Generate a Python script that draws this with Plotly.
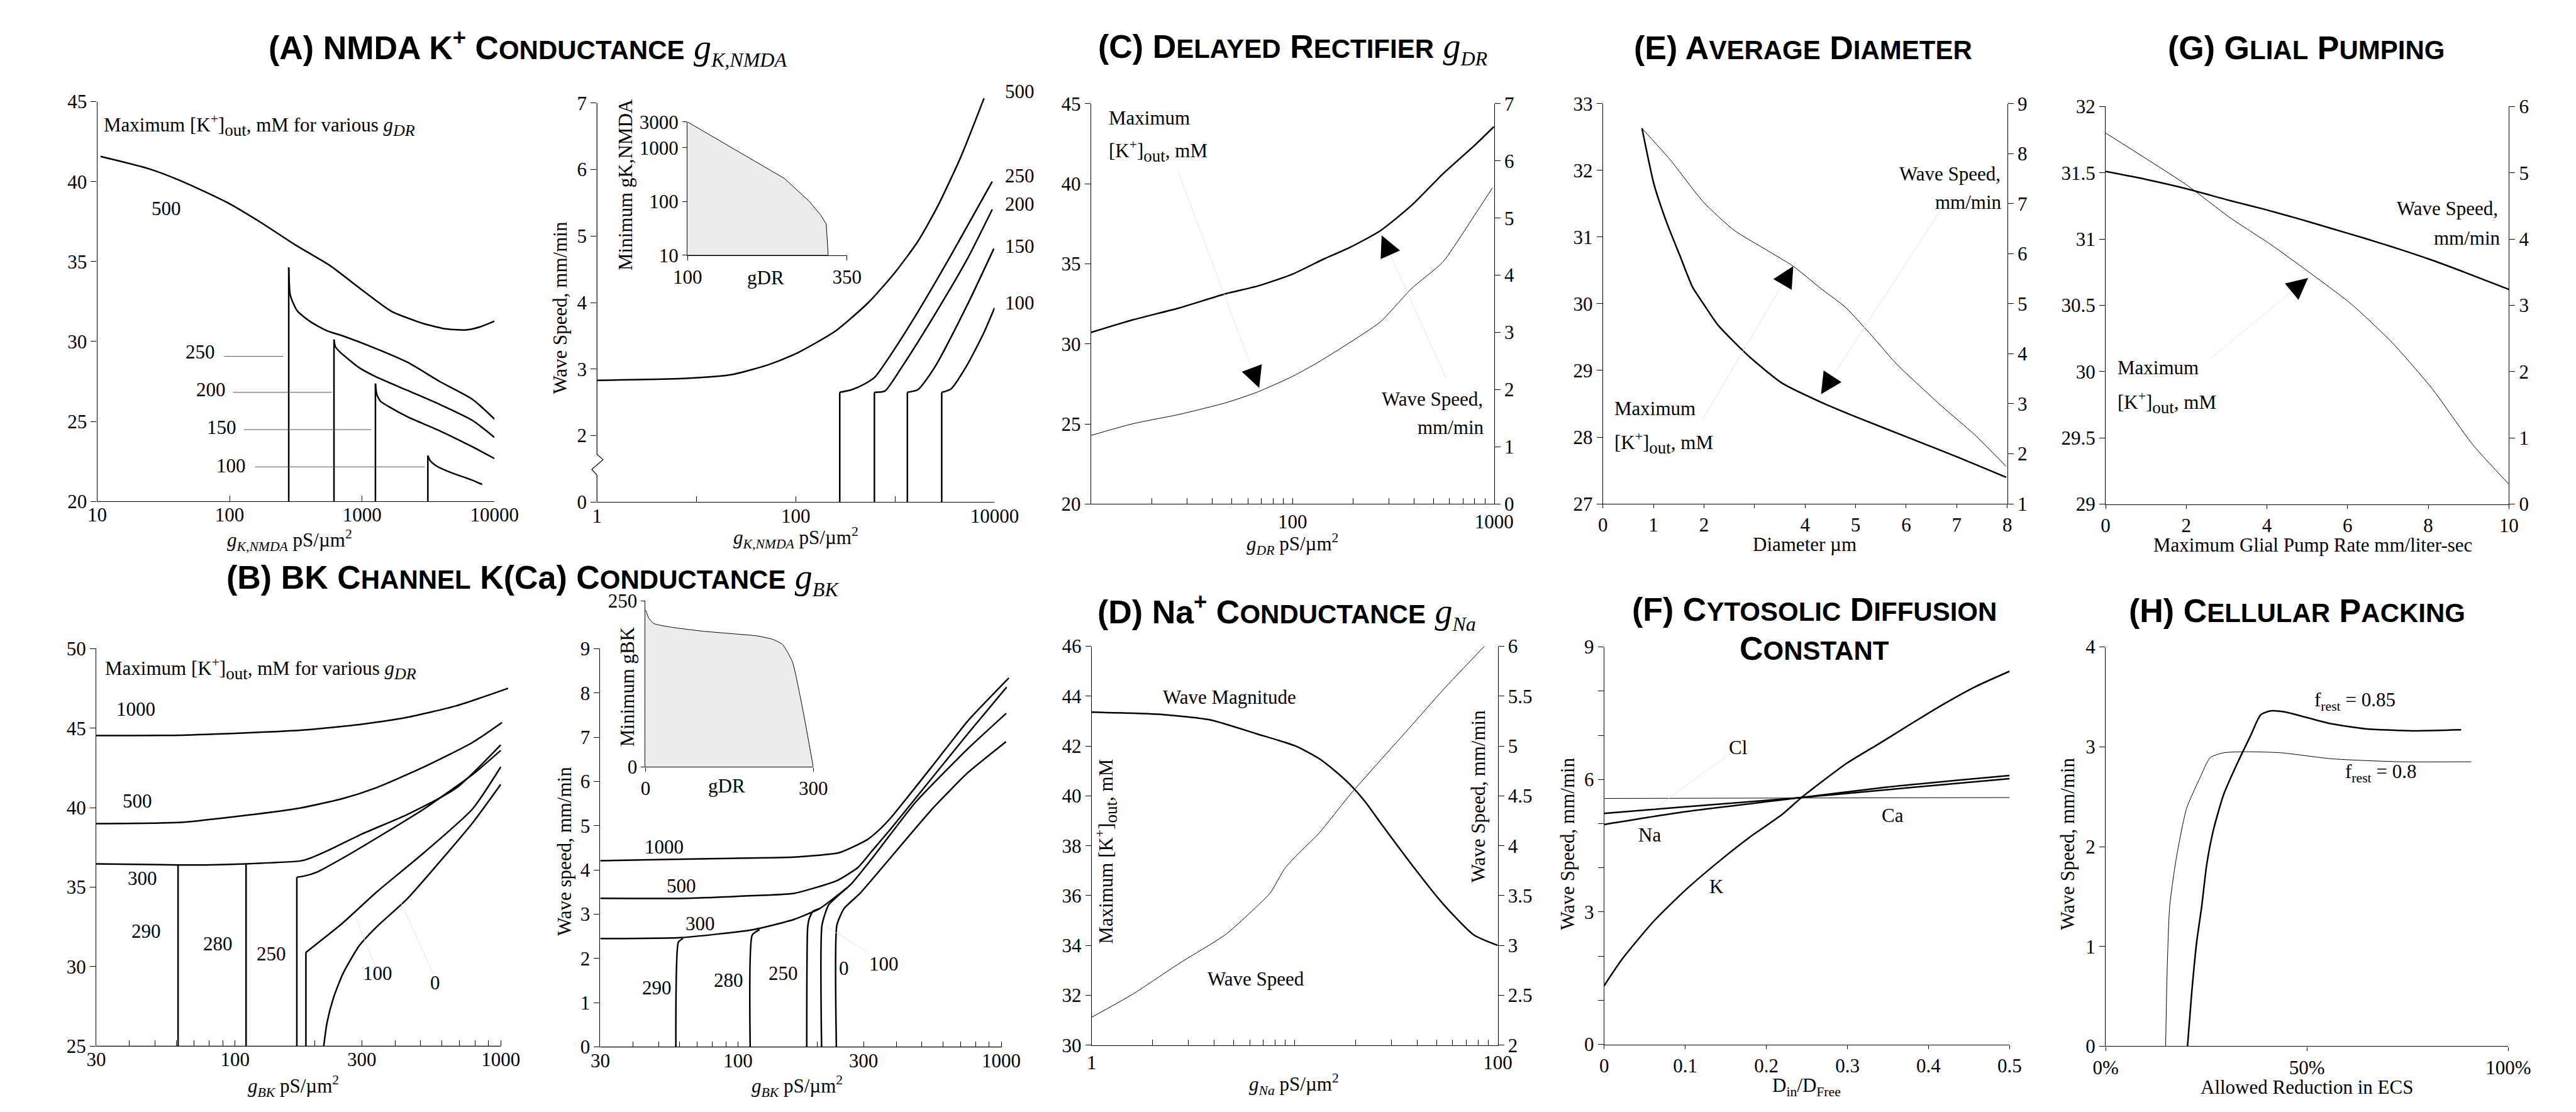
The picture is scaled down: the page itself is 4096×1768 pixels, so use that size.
import math
import plotly.graph_objects as go

# ======================= DATA =======================
# ---- Panel A left: Maximum [K+]out (mM) vs gK,NMDA for various gDR ----
A_L_500_X = [10.6, 24.6, 43.2, 94.8, 176, 309, 574, 1007, 1670, 2935, 4351, 6100, 7640, 10000]
A_L_500_Y = [41.57, 40.80, 40.03, 38.71, 37.39, 36.07, 34.74, 33.20, 31.88, 31.11, 30.78, 30.72, 30.89, 31.27]
A_L_250_X = [279.5, 286, 301, 327, 410, 543, 720, 1262, 2215, 3890, 6825, 10000]
A_L_250_Y = [34.63, 32.97, 32.43, 31.88, 31.22, 30.67, 30.34, 29.57, 28.69, 27.48, 26.38, 25.15]
A_L_200_X = [614, 628, 679, 952, 1262, 2215, 3890, 6825, 10000]
A_L_200_Y = [30.12, 29.68, 29.35, 28.36, 27.81, 26.93, 26.05, 25.06, 24.0]
A_L_150_X = [1262, 1291, 1374, 1582, 2215, 3890, 6825, 10000]
A_L_150_Y = [27.37, 26.71, 26.27, 25.94, 25.28, 24.40, 23.41, 22.68]
A_L_100_X = [3141, 3280, 3673, 4603, 6825, 8075]
A_L_100_Y = [22.86, 22.53, 22.20, 21.83, 21.32, 21.06]
A_L_FLOOR = 20
A_L_LEADER_Y = [29.07, 26.82, 24.49, 22.16]
A_L_LEADER_X0 = [90.8, 106, 128, 155]
A_L_LEADER_X1 = [254, 590, 1172, 2985]
A_L_XTICKS = [10, 100, 1000, 10000]
A_L_YTICKS = [20, 25, 30, 35, 40, 45]

# ---- Panel A right: wave speed (mm/min) vs gK,NMDA ----
A_R_500_X = [1, 8.0, 23.4, 54.2, 100, 250, 538, 993, 1694, 2683, 4581, 7834]
A_R_500_Y = [2.83, 2.86, 2.92, 3.07, 3.23, 3.57, 4.0, 4.45, 4.92, 5.45, 6.19, 7.07]
A_R_250_X = [277, 277, 367, 499, 627, 918, 1694, 3641, 9480]
A_R_250_Y = [0, 2.65, 2.69, 2.78, 2.88, 3.23, 3.86, 4.71, 5.82]
A_R_200_X = [618, 618, 789, 1156, 2484, 5343, 9480]
A_R_200_Y = [0, 2.65, 2.67, 3.02, 3.81, 4.66, 5.40]
A_R_150_X = [1327, 1327, 1694, 2484, 5343, 9840]
A_R_150_Y = [0, 2.65, 2.69, 3.02, 3.97, 4.81]
A_R_100_X = [2940, 2940, 3641, 5343, 7834, 10000]
A_R_100_Y = [0, 2.65, 2.70, 3.07, 3.55, 3.92]
A_R_XTICKS = [1, 10, 100, 1000, 10000]
A_R_XLABELS = ['1', '', '100', '', '10000']
A_R_YTICKS = [0, 2, 3, 4, 5, 6, 7]
A_LEVELS = ['500', '250', '200', '150', '100']
# inset: minimum gK,NMDA vs gDR
A_IN_X = [100, 176.6, 251.6, 290.5, 308.6, 317.4, 320.5]
A_IN_Y = [3000, 887, 268, 101, 56, 38, 10]
A_IN_YTICKS = [10, 100, 1000, 3000]
A_IN_XTICKS = [100, 350]

# ---- Panel C: delayed rectifier ----
C_X = [10, 16.1, 27.5, 46.9, 66.9, 100, 144, 191, 273, 389, 556, 794, 1000]
C_SPEED = [3.0, 3.22, 3.43, 3.68, 3.81, 4.02, 4.29, 4.48, 4.78, 5.22, 5.77, 6.26, 6.60]
C_MAXK_X = [10, 16.1, 27.5, 46.9, 66.9, 100, 134, 191, 273, 389, 556, 794, 980]
C_MAXK = [24.28, 25.01, 25.60, 26.33, 26.99, 27.97, 28.85, 30.06, 31.38, 33.45, 35.11, 37.97, 39.73]
C_XTICKS = [10, 20, 30, 40, 50, 60, 70, 80, 90, 100, 200, 300, 400, 500, 600, 700, 800, 900, 1000]
C_YTICKS = [20, 25, 30, 35, 40, 45]
C_Y2TICKS = [0, 1, 2, 3, 4, 5, 6, 7]

# ---- Panel E: average diameter ----
E_X_SPEED = [0.773, 1.013, 1.267, 1.52, 1.77, 1.995, 2.28, 2.91, 3.55, 4.34, 5.0, 6.08, 7.03, 7.98]
E_SPEED = [8.51, 7.38, 6.61, 5.97, 5.34, 4.99, 4.57, 3.93, 3.41, 3.02, 2.74, 2.31, 1.93, 1.53]
E_X_MAXK = [0.773, 1.33, 1.995, 2.6, 3.23, 3.77, 4.31, 4.81, 5.32, 5.82, 6.71, 7.35, 7.98]
E_MAXK = [32.63, 32.16, 31.52, 31.10, 30.81, 30.56, 30.23, 29.94, 29.52, 29.09, 28.46, 28.04, 27.56]
E_XTICKS = [0, 1, 2, 3, 4, 5, 6, 7, 8]
E_XLABELS = ['0', '1', '2', '', '4', '5', '6', '7', '8']
E_YTICKS = [27, 28, 29, 30, 31, 32, 33]
E_Y2TICKS = [1, 2, 3, 4, 5, 6, 7, 8, 9]

# ---- Panel G: glial pumping ----
G_X_SPEED = [0, 1.0, 2.0, 3.09, 3.93, 4.76, 5.6, 6.43, 7.27, 8.1, 8.94, 10]
G_SPEED = [5.02, 4.90, 4.76, 4.58, 4.45, 4.31, 4.16, 4.01, 3.85, 3.68, 3.49, 3.24]
G_X_MAXK = [0, 2.0, 3.09, 4.09, 5.0, 6.09, 7.1, 8.1, 9.1, 10]
G_MAXK = [31.80, 31.41, 31.16, 30.96, 30.76, 30.51, 30.22, 29.87, 29.45, 29.15]
G_XTICKS = [0, 2, 4, 6, 8, 10]
G_YTICKS = [29, 29.5, 30, 30.5, 31, 31.5, 32]
G_Y2TICKS = [0, 1, 2, 3, 4, 5, 6]

# ---- Panel B left: Maximum [K+]out vs gBK ----
B_L_1000_X = [30, 62.7, 177, 300, 447, 681, 1066]
B_L_1000_Y = [44.54, 44.56, 44.87, 45.25, 45.69, 46.41, 47.51]
B_L_500_X = [30, 62.7, 110, 177, 255, 338, 514, 783, 1011]
B_L_500_Y = [39.0, 39.08, 39.52, 39.99, 40.58, 41.24, 42.56, 44.1, 45.36]
B_L_300_X = [30, 61, 77.5, 110, 177, 192.7, 222, 300, 447, 681, 1000]
B_L_300_Y = [36.47, 36.4, 36.4, 36.47, 36.66, 36.84, 37.28, 38.34, 39.59, 41.24, 43.95]
B_L_290_X = [61, 61]
B_L_290_Y = [25, 36.4]
B_L_280_X = [110, 110]
B_L_280_Y = [25, 36.47]
B_L_250_X = [170.8, 170.8, 182, 204, 255, 338, 514, 783, 1000]
B_L_250_Y = [25, 35.63, 35.7, 35.96, 36.84, 38.05, 39.92, 42.08, 43.6]
B_L_100_X = [184.8, 184.8, 255, 338, 514, 783, 1000]
B_L_100_Y = [25, 30.9, 32.77, 34.64, 37.17, 39.92, 42.56]
B_L_0_X = [215.6, 222, 234.6, 255, 294, 338, 447, 591, 783, 1000]
B_L_0_Y = [25, 26.5, 28.04, 29.58, 31.34, 32.44, 34.31, 36.62, 39.04, 41.46]
B_XTICKS = [30, 40, 50, 60, 70, 80, 90, 100, 200, 300, 400, 500, 600, 700, 800, 900, 1000]
B_XLABELED = [30, 100, 300, 1000]
B_L_YTICKS = [25, 30, 35, 40, 45, 50]

# ---- Panel B right: wave speed vs gBK ----
B_R_1000_X = [30, 85.3, 162.8, 242, 308.9, 343, 382, 551, 747, 1069]
B_R_1000_Y = [4.21, 4.26, 4.29, 4.39, 4.68, 4.90, 5.19, 6.37, 7.37, 8.34]
B_R_500_X = [30, 63.9, 113.8, 162.8, 238, 286, 323, 382, 551, 747, 1048]
B_R_500_Y = [3.36, 3.36, 3.42, 3.47, 3.76, 4.06, 4.43, 4.94, 6.11, 7.08, 8.13]
B_R_300_X = [30, 60.4, 113.8, 162.8, 204.7, 261]
B_R_300_Y = [2.45, 2.47, 2.65, 2.88, 3.13, 3.61]
B_R_290_X = [58.1, 59.4, 61.8]
B_R_290_Y = [0, 2.37, 2.45]
B_R_280_X = [111.3, 113.3, 120.8]
B_R_280_Y = [0, 2.53, 2.65]
B_R_250_X = [182.5, 184, 187, 193, 204.7]
B_R_250_Y = [0, 2.7, 2.92, 3.07, 3.13]
B_R_100_X = [207.8, 208.5, 221, 269, 323, 472.6, 747, 1045]
B_R_100_Y = [0, 2.75, 3.21, 3.68, 4.26, 5.53, 6.74, 7.54]
B_R_0_X = [236.5, 237.5, 253, 290.8, 348, 551, 747, 1043]
B_R_0_Y = [0, 2.75, 3.13, 3.47, 4.01, 5.40, 6.20, 6.90]
B_R_YTICKS = [0, 1, 2, 3, 4, 5, 6, 7, 8, 9]
# inset: minimum gBK vs gDR
B_IN_X = [0, 5.9, 14.8, 44.3, 103.3, 162.4, 197.8, 227.4, 245.1, 262.8, 280.5, 300]
B_IN_Y = [236.8, 223.7, 215.8, 210.5, 204.2, 200, 197.4, 192.1, 184.2, 157.9, 89.5, 0]

# ---- Panel D: Na conductance ----
D_X_MAG = [1, 2.26, 3.83, 6.5, 10.1, 13.1, 15.7, 18.7, 22.3, 26.5, 37.8, 53.6, 76.3, 100]
D_MAG = [43.36, 43.26, 43.05, 42.49, 42.0, 41.51, 41.02, 40.46, 39.75, 38.91, 37.23, 35.68, 34.42, 34.0]
D_X_SPEED = [1, 1.59, 2.7, 4.57, 6.5, 7.6, 8.92, 10.3, 13.1, 18.7, 26.5, 37.8, 53.6, 87.8]
D_SPEED = [2.28, 2.51, 2.82, 3.11, 3.39, 3.53, 3.77, 3.91, 4.12, 4.51, 4.86, 5.21, 5.56, 6.02]
D_XTICKS = [1, 2, 3, 4, 5, 6, 7, 8, 9, 10, 20, 30, 40, 50, 60, 70, 80, 90, 100]
D_YTICKS = [30, 32, 34, 36, 38, 40, 42, 44, 46]
D_Y2TICKS = [2, 2.5, 3, 3.5, 4, 4.5, 5, 5.5, 6]

# ---- Panel F: cytosolic diffusion constant ----
F_X_K = [0, 0.0221, 0.0616, 0.1011, 0.1406, 0.1801, 0.2196, 0.2433, 0.2986, 0.3381, 0.3776, 0.4171, 0.4566, 0.5]
F_K = [1.33, 1.93, 2.80, 3.51, 4.13, 4.70, 5.21, 5.59, 6.36, 6.80, 7.25, 7.69, 8.09, 8.45]
F_X_ION = [0, 0.1, 0.2433, 0.35, 0.5]
F_NA = [4.98, 5.27, 5.59, 5.83, 6.09]
F_CL = [5.23, 5.38, 5.59, 5.77, 6.02]
F_X_CA = [0, 0.2433, 0.5]
F_CA = [5.57, 5.58, 5.59]
F_XTICKS = [0, 0.1, 0.2, 0.3, 0.4, 0.5]
F_YTICKS = [0, 1, 2, 3, 4, 5, 6, 7, 8, 9]
F_YLABELED = [0, 3, 6, 9]

# ---- Panel H: cellular packing ----
H_X_085 = [0.2033, 0.2134, 0.2259, 0.2385, 0.251, 0.2678, 0.2929, 0.3264, 0.3598, 0.3849, 0.41, 0.4435, 0.5021, 0.5607, 0.6444, 0.7699, 0.8828]
H_085 = [0, 0.52, 1.04, 1.40, 1.82, 2.17, 2.52, 2.83, 3.11, 3.32, 3.36, 3.35, 3.29, 3.23, 3.18, 3.16, 3.17]
H_X_080 = [0.149, 0.1523, 0.159, 0.1757, 0.2008, 0.2343, 0.2594, 0.2929, 0.3515, 0.4351, 0.5607, 0.728, 0.9079]
H_080 = [0, 0.69, 1.40, 1.89, 2.38, 2.69, 2.89, 2.94, 2.95, 2.94, 2.88, 2.85, 2.85]
H_XTICKS = [0, 0.5, 1.0]
H_XLABELS = ['0%', '50%', '100%']
H_YTICKS = [0, 1, 2, 3, 4]

# ======================= GEOMETRY / STYLE =======================
W_REF, H_REF = 4850, 2094
W, H = 4096, 1768
SERIF = "Liberation Serif"
SANS = "Liberation Sans"
FS = 31          # general text size (output px)
TS = 52          # title size
SC = 42          # small-caps size
THICK = 2.5
THIN = 1.0
AXW = 1.2


def px(fx):
    return fx / W_REF


def py(fy):
    return 1 - fy / H_REF


def dxr(x0, x1):
    return [px(x0), px(x1)]


def dyr(top, bottom):
    return [py(bottom), py(top)]


def lg(v):
    return math.log10(v)


def fmt(v):
    return ('%g' % v)


fig = go.Figure()


def curve(x, y, xa, ya, w=THICK, shape='spline', smooth=0.6, color='black'):
    fig.add_trace(go.Scatter(x=x, y=y, xaxis=xa, yaxis=ya, mode='lines',
                             line=dict(color=color, width=w, shape=shape, smoothing=smooth),
                             hoverinfo='skip', showlegend=False))


def axis(domain, rng, typ='linear', anchor=None, **kw):
    d = dict(domain=domain, range=rng, type=typ, anchor=anchor, showline=True, linecolor='black',
             linewidth=AXW, ticks='outside', ticklen=9, tickwidth=AXW, tickcolor='black',
             showgrid=False, zeroline=False, fixedrange=True,
             tickfont=dict(family=SERIF, size=FS, color='black'))
    d.update(kw)
    return d


def arr(vals, labels=None, labeled=None):
    if labels is None:
        labels = [fmt(v) if (labeled is None or v in labeled) else '' for v in vals]
    return dict(tickmode='array', tickvals=vals, ticktext=labels)


XIN_A = dict(ticks='inside', ticklen=9, ticklabelstandoff=-6)  # panel A x axes (labels close to axis)
XIN = dict(ticks='inside', ticklen=9)                          # x ticks drawn inside (B, C, D)
XOUT = dict(ticks='outside', ticklen=6)                        # x ticks drawn outside (E, F, G, H)


def text(fx, fy, s, xanchor='center', yanchor='middle', size=FS, angle=0, family=SERIF):
    fig.add_annotation(x=px(fx), y=py(fy), xref='paper', yref='paper', text=s, showarrow=False,
                       xanchor=xanchor, yanchor=yanchor, textangle=angle,
                       align=xanchor if xanchor != 'center' else 'center',
                       font=dict(family=family, size=size, color='black'))


def sc(word):
    return word[0] + "<span style='font-size:%dpx'>%s</span>" % (SC, word[1:].upper())


def gt(sub):
    return ("<span style='font-family:%s;font-weight:normal;font-size:%dpx'><i>g</i><sub><i>"
            "<span style='font-size:32px'>%s</span></i></sub></span>" % (SERIF, TS + 4, sub))


def title(fx, fy, s):
    text(fx, fy, s, size=TS, family=SANS)


def gx(sub):
    return "<i>g</i><sub><i>%s</i></sub> pS/µm<sup>2</sup>" % sub


KOUT = "[K<sup>+</sup>]<sub><span style='font-size:27px'>out</span></sub>, mM"
GDR = "<i>g</i><sub><i><span style='font-size:26px'>DR</span></i></sub>"


def faint(x0, y0, x1, y1):
    fig.add_shape(type='line', xref='paper', yref='paper', x0=px(x0), y0=py(y0), x1=px(x1), y1=py(y1),
                  line=dict(color='#e4e4e4', width=1))


def arrowhead(tipx, tipy, tailx, taily):
    vx, vy = (tailx - tipx), (taily - tipy)
    n = math.hypot(vx, vy)
    L = 30
    fig.add_annotation(x=px(tipx), y=py(tipy), xref='paper', yref='paper', text='', showarrow=True,
                       ax=vx / n * L, ay=vy / n * L, axref='pixel', ayref='pixel',
                       arrowhead=2, arrowsize=2.6, arrowwidth=2.6, arrowcolor='black')


lay = {}

# ---------------- Panel A left ----------------
lay['xaxis'] = axis(dxr(148.5, 908), [1, 4], 'log', 'y', **XIN_A, **arr(A_L_XTICKS))
lay['yaxis'] = axis(dyr(165, 933), [20, 45], 'linear', 'x', **arr(A_L_YTICKS))
curve(A_L_500_X, A_L_500_Y, 'x', 'y')
for xs, ys in [(A_L_250_X, A_L_250_Y), (A_L_200_X, A_L_200_Y), (A_L_150_X, A_L_150_Y), (A_L_100_X, A_L_100_Y)]:
    curve([xs[0], xs[0]], [A_L_FLOOR, ys[0]], 'x', 'y', shape='linear')
    curve(xs, ys, 'x', 'y')
for yv, x0, x1 in zip(A_L_LEADER_Y, A_L_LEADER_X0, A_L_LEADER_X1):
    curve([x0, x1], [yv, yv], 'x', 'y', w=1.0, shape='linear', color='#555555')
text(159, 211, "Maximum " + KOUT + " for various " + GDR, xanchor='left')
text(281, 370, A_LEVELS[0])
for (fx, fy), lab in zip([(346, 646), (366, 718), (387, 791), (405, 864)], A_LEVELS[1:]):
    text(fx, fy, lab)
text(516, 1008, gx("K,NMDA"))

# ---------------- Panel A right ----------------
A_R_TOP = 7.12


def brk(vals):
    return [1 + v / 2 if v < 2 else v for v in vals]


lay['xaxis2'] = axis(dxr(1104, 1864), [0, 4], 'log', 'y2', **XIN_A, **arr(A_R_XTICKS, A_R_XLABELS))
lay['yaxis2'] = axis(dyr(167.7 - 0.12 * 127.77, 934.3), [1, A_R_TOP], 'linear', 'x2', showline=False,
                     **arr(brk(A_R_YTICKS), [fmt(v) for v in A_R_YTICKS]))
curve(A_R_500_X, brk(A_R_500_Y), 'x2', 'y2')
for xs, ys in [(A_R_250_X, A_R_250_Y), (A_R_200_X, A_R_200_Y), (A_R_150_X, A_R_150_Y), (A_R_100_X, A_R_100_Y)]:
    curve(xs[:2], brk(ys[:2]), 'x2', 'y2', shape='linear')
    curve(xs[1:], ys[1:], 'x2', 'y2')
AX = px(1104)
fig.add_shape(type='path', xref='paper', yref='y2',
              path="M%f,1 L%f,1.404 L%f,1.49 L%f,1.639 L%f,1.717 L%f,7" % (
                  AX, AX, AX - 10 / W_REF, AX + 11.7 / W_REF, AX, AX),
              line=dict(color='black', width=AXW))
text(1033, 561, "Wave Speed, mm/min", angle=-90)
text(1484, 1003, gx("K,NMDA"))
for fy, lab in zip([145, 308, 362, 443, 551], A_LEVELS):
    text(1881, fy, lab, xanchor='left')
# inset
lay['xaxis3'] = axis(dxr(1277, 1582), [100, 350], 'linear', 'y3', ticklen=7, **arr(A_IN_XTICKS))
lay['yaxis3'] = axis(dyr(204, 460), [1, lg(3000)], 'log', 'x3', ticklen=7, **arr(A_IN_YTICKS))
fig.add_trace(go.Scatter(x=A_IN_X + [A_IN_X[0]], y=A_IN_Y + [A_IN_Y[-1]], xaxis='x3', yaxis='y3',
                         mode='lines', fill='toself', fillcolor='#ececec',
                         line=dict(color='black', width=THIN), hoverinfo='skip', showlegend=False))
text(1159, 325, "Minimum gK,NMDA", angle=-90)
text(1427, 503, "gDR")

# ---------------- Panel C ----------------
lay['xaxis4'] = axis(dxr(2048.5, 2819), [1, 3], 'log', 'y4', **XIN, **arr(C_XTICKS, labeled=[100, 1000]))
lay['yaxis4'] = axis(dyr(169, 938), [20, 45], 'linear', 'x4', **arr(C_YTICKS))
lay['yaxis5'] = axis(dyr(169, 938), [0, 7], 'linear', 'x4', overlaying='y4', side='right', **arr(C_Y2TICKS))
curve(C_X, C_SPEED, 'x4', 'y5')
curve(C_MAXK_X, C_MAXK, 'x4', 'y4', w=THIN)
text(2080, 196, "Maximum", xanchor='left')
text(2080, 260, KOUT, xanchor='left')
text(2800, 737, "Wave Speed,", xanchor='right')
text(2803, 791, "mm/min", xanchor='right')
faint(2214, 297, 2370, 715)
faint(2727, 696, 2604, 422)
arrowhead(2370, 715, 2214, 297)
arrowhead(2604, 422, 2727, 696)
text(2433, 1015, gx("DR"))

# ---------------- Panel E ----------------
lay['xaxis5'] = axis(dxr(3027, 3800), [0, 8], 'linear', 'y6', **XOUT, **arr(E_XTICKS, E_XLABELS))
lay['yaxis6'] = axis(dyr(169, 937.7), [27, 33], 'linear', 'x5', **arr(E_YTICKS))
lay['yaxis7'] = axis(dyr(169, 937.7), [1, 9], 'linear', 'x5', overlaying='y6', side='right', **arr(E_Y2TICKS))
curve(E_X_SPEED, E_SPEED, 'x5', 'y7')
curve(E_X_MAXK, E_MAXK, 'x5', 'y6', w=THIN)
text(3789, 304, "Wave Speed,", xanchor='right')
text(3792, 358, "mm/min", xanchor='right')
text(3046, 754, "Maximum", xanchor='left')
text(3046, 821, KOUT, xanchor='left')
faint(3217, 777, 3391, 481)
faint(3676, 368, 3444, 727)
arrowhead(3391, 481, 3217, 777)
arrowhead(3444, 727, 3676, 368)
text(3413, 1016, "Diameter µm")

# ---------------- Panel G ----------------
lay['xaxis6'] = axis(dxr(3988, 4759), [0, 10], 'linear', 'y8', **XOUT, **arr(G_XTICKS))
lay['yaxis8'] = axis(dyr(174.4, 938.3), [29, 32], 'linear', 'x6', **arr(G_YTICKS))
lay['yaxis9'] = axis(dyr(174.4, 938.3), [0, 6], 'linear', 'x6', overlaying='y8', side='right', **arr(G_Y2TICKS))
curve(G_X_SPEED, G_SPEED, 'x6', 'y9')
curve(G_X_MAXK, G_MAXK, 'x6', 'y8', w=THIN)
text(4740, 370, "Wave Speed,", xanchor='right')
text(4745, 427, "mm/min", xanchor='right')
text(4009, 676, "Maximum", xanchor='left')
text(4009, 744, KOUT, xanchor='left')
faint(4188, 659, 4375, 504)
arrowhead(4375, 504, 4188, 659)
text(4384, 1017, "Maximum Glial Pump Rate mm/liter-sec")

# ---------------- Panel B left ----------------
BL_HI = 1070
lay['xaxis7'] = axis(dxr(146.6, 146.6 + (lg(BL_HI) - lg(30)) * 507.8), [lg(30), lg(BL_HI)], 'log', 'y10',
                     showline=False, **XIN, **arr(B_XTICKS, labeled=B_XLABELED))
lay['yaxis10'] = axis(dyr(1216, 1979.7), [25, 50], 'linear', 'x7', **arr(B_L_YTICKS))
fig.add_shape(type='line', xref='x7 domain', yref='y10 domain', x0=0,
              x1=(lg(1000) - lg(30)) / (lg(BL_HI) - lg(30)), y0=0, y1=0,
              line=dict(color='black', width=AXW))
for xs, ys in [(B_L_1000_X, B_L_1000_Y), (B_L_500_X, B_L_500_Y), (B_L_300_X, B_L_300_Y), (B_L_0_X, B_L_0_Y)]:
    curve(xs, ys, 'x7', 'y10')
for xs, ys in [(B_L_290_X, B_L_290_Y), (B_L_280_X, B_L_280_Y)]:
    curve(xs, ys, 'x7', 'y10', shape='linear')
for xs, ys in [(B_L_250_X, B_L_250_Y), (B_L_100_X, B_L_100_Y)]:
    curve(xs[:2], ys[:2], 'x7', 'y10', shape='linear')
    curve(xs[1:], ys[1:], 'x7', 'y10')
text(161, 1255, "Maximum " + KOUT + " for various " + GDR, xanchor='left')
for (fx, fy), lab in zip([(223, 1332), (226, 1508), (235, 1657), (242, 1759), (379, 1783), (482, 1802),
                          (685, 1840), (795, 1858)],
                         ['1000', '500', '300', '290', '280', '250', '100', '0']):
    text(fx, fy, lab)
faint(640, 1726, 680, 1826)
faint(730, 1705, 792, 1843)
text(523, 2056, gx("BK"))

# ---------------- Panel B right ----------------
BR_HI = 1075
lay['xaxis8'] = axis(dxr(1110.3, 1110.3 + (lg(BR_HI) - lg(30)) * 503.3), [lg(30), lg(BR_HI)], 'log', 'y11',
                     showline=False, **XIN, **arr(B_XTICKS, labeled=B_XLABELED))
lay['yaxis11'] = axis(dyr(1216.1, 1981.1), [0, 9], 'linear', 'x8', **arr(B_R_YTICKS))
fig.add_shape(type='line', xref='x8 domain', yref='y11 domain', x0=0,
              x1=(lg(1000) - lg(30)) / (lg(BR_HI) - lg(30)), y0=0, y1=0,
              line=dict(color='black', width=AXW))
for xs, ys in [(B_R_1000_X, B_R_1000_Y), (B_R_500_X, B_R_500_Y), (B_R_300_X, B_R_300_Y),
               (B_R_290_X, B_R_290_Y), (B_R_280_X, B_R_280_Y), (B_R_250_X, B_R_250_Y),
               (B_R_100_X, B_R_100_Y), (B_R_0_X, B_R_0_Y)]:
    curve(xs, ys, 'x8', 'y11', smooth=0.5)
text(1042, 1605, "Wave speed, mm/min", angle=-90)
for (fx, fy), lab in zip([(1232, 1597), (1265, 1672), (1301, 1744), (1218, 1867), (1355, 1853),
                          (1460, 1840), (1576, 1830), (1653, 1821)],
                         ['1000', '500', '300', '290', '280', '250', '0', '100']):
    text(fx, fy, lab)
faint(1541, 1749, 1623, 1800)
text(1487, 2056, gx("BK"))
# inset
lay['xaxis9'] = axis(dxr(1196.8, 1517.5), [0, 300], 'linear', 'y12', ticklen=6, **arr([0, 300]))
lay['yaxis12'] = axis(dyr(1124, 1443.3), [0, 250], 'linear', 'x9', ticklen=6, **arr([0, 250]))
fig.add_trace(go.Scatter(x=B_IN_X, y=B_IN_Y, xaxis='x9', yaxis='y12', mode='lines', fill='tozeroy',
                         fillcolor='#ececec', line=dict(color='black', width=THIN, shape='spline', smoothing=0.5),
                         hoverinfo='skip', showlegend=False))
text(1162, 1289, "Minimum gBK", angle=-90)
text(1352, 1480, "gDR")

# ---------------- Panel D ----------------
lay['xaxis10'] = axis(dxr(2049.6, 2826), [0, 2], 'log', 'y13', **XIN, **arr(D_XTICKS, labeled=[1, 100]))
lay['yaxis13'] = axis(dyr(1211.4, 1977.7), [30, 46], 'linear', 'x10', **arr(D_YTICKS))
lay['yaxis14'] = axis(dyr(1211.4, 1977.7), [2, 6], 'linear', 'x10', overlaying='y13', side='right',
                      **arr(D_Y2TICKS))
curve(D_X_MAG, D_MAG, 'x10', 'y13')
curve(D_X_SPEED, D_SPEED, 'x10', 'y14', w=THIN)
text(2078, 1605, "Maximum " + KOUT, angle=-90)
text(2789, 1500, "Wave Speed, mm/min", angle=-90)
text(2313, 1309, "Wave Magnitude")
text(2364, 1850, "Wave Speed")
text(2436, 2053, gx("Na"))

# ---------------- Panel F ----------------
lay['xaxis11'] = axis(dxr(3029.4, 3804.5), [0, 0.5], 'linear', 'y15', **XOUT, **arr(F_XTICKS))
lay['yaxis15'] = axis(dyr(1212.7, 1976.3), [0, 9], 'linear', 'x11', **arr(F_YTICKS, labeled=F_YLABELED))
curve(F_X_K, F_K, 'x11', 'y15')
curve(F_X_ION, F_NA, 'x11', 'y15')
curve(F_X_ION, F_CL, 'x11', 'y15')
curve(F_X_CA, F_CA, 'x11', 'y15', w=THIN)
text(2960, 1591, "Wave Speed, mm/min", angle=-90)
text(3285, 1406, "Cl")
text(3581, 1536, "Ca")
text(3116, 1574, "Na")
text(3244, 1673, "K")
faint(3125, 1524, 3272, 1416)
text(3416, 2058, "D<sub>in</sub>/D<sub>Free</sub>")

# ---------------- Panel H ----------------
lay['xaxis12'] = axis(dxr(3988.1, 4757.9), [0, 1], 'linear', 'y16', **XOUT, **arr(H_XTICKS, H_XLABELS))
lay['yaxis16'] = axis(dyr(1212.7, 1979.7), [0, 4], 'linear', 'x12', **arr(H_YTICKS))
curve(H_X_085, H_085, 'x12', 'y16')
curve(H_X_080, H_080, 'x12', 'y16', w=THIN)
text(3916, 1591, "Wave Speed, mm/min", angle=-90)
text(4465, 1317, "f<sub>rest</sub> = 0.85")
text(4514, 1455, "f<sub>rest</sub> = 0.8")
text(4373, 2058, "Allowed Reduction in ECS")

# ---------------- Titles ----------------
title(972, 62, "<b>(A) NMDA K<sup>+</sup> " + sc("CONDUCTANCE") + "</b> " + gt("K,NMDA"))
title(981, 1082, "<b>(B) BK " + sc("CHANNEL") + " K(Ca) " + sc("CONDUCTANCE") + "</b> " + gt("BK"))
title(2435, 62, "<b>(C) " + sc("DELAYED") + " " + sc("RECTIFIER") + "</b> " + gt("DR"))
title(2423, 1146, "<b>(D) Na<sup>+</sup> " + sc("CONDUCTANCE") + "</b> " + gt("Na"))
title(3410, 62, "<b>(E) " + sc("AVERAGE") + " " + sc("DIAMETER") + "</b>")
title(3431, 1141, "<b>(F) " + sc("CYTOSOLIC") + " " + sc("DIFFUSION") + "</b>")
title(3431, 1216, "<b>" + sc("CONSTANT") + "</b>")
title(4371, 62, "<b>(G) " + sc("GLIAL") + " " + sc("PUMPING") + "</b>")
title(4354, 1143, "<b>(H) " + sc("CELLULAR") + " " + sc("PACKING") + "</b>")

fig.update_layout(width=W, height=H, margin=dict(l=0, r=0, t=0, b=0), paper_bgcolor='white',
                  plot_bgcolor='rgba(0,0,0,0)', showlegend=False,
                  font=dict(family=SERIF, size=FS, color='black'), **lay)

fig.write_html("out.html")
